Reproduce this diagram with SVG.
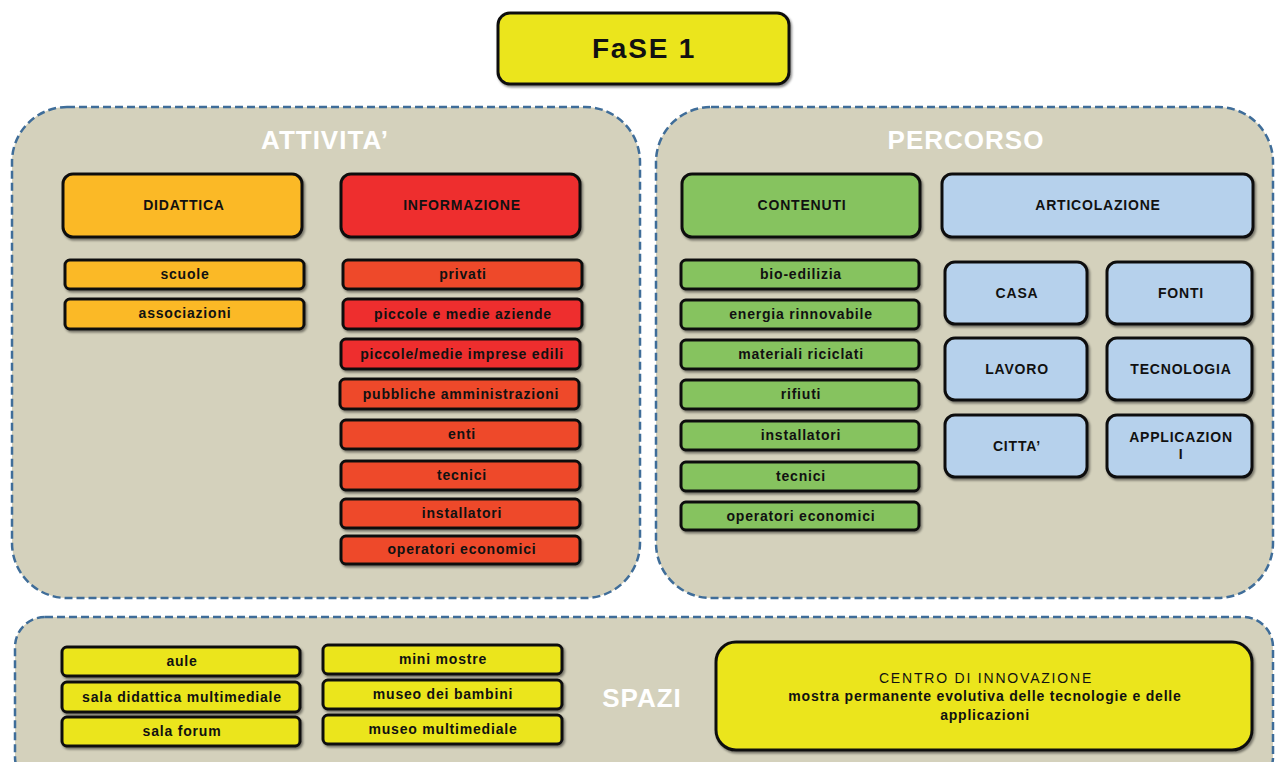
<svg xmlns="http://www.w3.org/2000/svg" width="1275" height="762" viewBox="0 0 1275 762">
<defs>
<filter id="sh" x="-10%" y="-20%" width="120%" height="150%">
<feDropShadow dx="1.5" dy="2" stdDeviation="1.2" flood-color="#000" flood-opacity="0.45"/>
</filter>
<style>
.panel{fill:#D4D1BC;stroke:#3F6D99;stroke-width:2.5;stroke-dasharray:8 4}
.pt{font-family:"Liberation Sans",Arial,sans-serif;font-weight:bold;fill:#fff;font-size:26px;text-anchor:middle;letter-spacing:1px}
.box{stroke:#111;stroke-width:3;filter:url(#sh)}
.t{font-family:"Liberation Sans",Arial,sans-serif;font-size:14px;font-weight:bold;fill:#111;text-anchor:middle;letter-spacing:0.8px}
.h{font-family:"Liberation Sans",Arial,sans-serif;font-size:14px;font-weight:bold;fill:#111;text-anchor:middle;letter-spacing:0.8px}
.c1{font-family:"Liberation Sans",Arial,sans-serif;font-size:14px;font-weight:normal;fill:#111;text-anchor:middle;letter-spacing:1.8px}
.yel{fill:#EBE51F}
.org{fill:#FBB927}
.red{fill:#EE2D2D}
.ored{fill:#EE4A2A}
.grn{fill:#86C35F}
.blu{fill:#B6D1EC}
</style>
</defs>
<rect width="1275" height="762" fill="#fff"/>

<g id="title">
<rect class="box yel" x="498" y="13" width="291" height="71" rx="12"/>
<text x="644" y="58" font-family="Liberation Sans,Arial,sans-serif" font-size="28" font-weight="bold" fill="#111" text-anchor="middle" letter-spacing="1.8">FaSE 1</text>
</g>

<g id="attivita">
<rect class="panel" x="12" y="107" width="628" height="491" rx="55"/>
<text class="pt" x="325" y="149">ATTIVITA’</text>
</g>
<g id="percorso">
<rect class="panel" x="656" y="107" width="617" height="491" rx="55"/>
<text class="pt" x="966" y="149">PERCORSO</text>
</g>
<g id="spazi">
<rect class="panel" x="15" y="617" width="1258" height="170" rx="30"/>
<text class="pt" x="642" y="707">SPAZI</text>
</g>

<g id="didattica"><rect class="box org" x="63" y="174" width="239" height="63" rx="10"/><text class="h" x="184" y="210">DIDATTICA</text></g>
<g id="informazione"><rect class="box red" x="341" y="174" width="239" height="63" rx="10"/><text class="h" x="462" y="210">INFORMAZIONE</text></g>
<g id="scuole"><rect class="box org" x="65" y="260" width="239" height="29" rx="5"/><text class="t" x="185" y="279">scuole</text></g>
<g id="associazioni"><rect class="box org" x="65" y="299" width="239" height="30" rx="5"/><text class="t" x="185" y="318">associazioni</text></g>
<g id="privati"><rect class="box ored" x="343" y="260" width="239" height="29" rx="5"/><text class="t" x="463" y="279">privati</text></g>
<g id="pmi"><rect class="box red" x="343" y="299" width="239" height="30" rx="5"/><text class="t" x="463" y="319">piccole e medie aziende</text></g>
<g id="edili"><rect class="box red" x="341" y="339" width="239" height="30" rx="5"/><text class="t" x="462" y="359">piccole/medie imprese edili</text></g>
<g id="pa"><rect class="box ored" x="340" y="379" width="239" height="30" rx="5"/><text class="t" x="461" y="399">pubbliche amministrazioni</text></g>
<g id="enti"><rect class="box ored" x="341" y="420" width="239" height="29" rx="5"/><text class="t" x="462" y="439">enti</text></g>
<g id="tecnici1"><rect class="box ored" x="341" y="461" width="239" height="29" rx="5"/><text class="t" x="462" y="480">tecnici</text></g>
<g id="installatori1"><rect class="box ored" x="341" y="499" width="239" height="29" rx="5"/><text class="t" x="462" y="518">installatori</text></g>
<g id="operatori1"><rect class="box ored" x="341" y="536" width="239" height="28" rx="5"/><text class="t" x="462" y="554">operatori economici</text></g>

<g id="contenuti"><rect class="box grn" x="682" y="174" width="238" height="63" rx="10"/><text class="h" x="802" y="210">CONTENUTI</text></g>
<g id="articolazione"><rect class="box blu" x="942" y="174" width="311" height="63" rx="10"/><text class="h" x="1098" y="210">ARTICOLAZIONE</text></g>
<g id="bioedilizia"><rect class="box grn" x="681" y="260" width="238" height="29" rx="5"/><text class="t" x="801" y="279">bio-edilizia</text></g>
<g id="energia"><rect class="box grn" x="681" y="300" width="238" height="29" rx="5"/><text class="t" x="801" y="319">energia rinnovabile</text></g>
<g id="materiali"><rect class="box grn" x="681" y="340" width="238" height="29" rx="5"/><text class="t" x="801" y="359">materiali riciclati</text></g>
<g id="rifiuti"><rect class="box grn" x="681" y="380" width="238" height="29" rx="5"/><text class="t" x="801" y="399">rifiuti</text></g>
<g id="installatori2"><rect class="box grn" x="681" y="421" width="238" height="29" rx="5"/><text class="t" x="801" y="440">installatori</text></g>
<g id="tecnici2"><rect class="box grn" x="681" y="462" width="238" height="29" rx="5"/><text class="t" x="801" y="481">tecnici</text></g>
<g id="operatori2"><rect class="box grn" x="681" y="502" width="238" height="28" rx="5"/><text class="t" x="801" y="521">operatori economici</text></g>

<g id="casa"><rect class="box blu" x="945" y="262" width="142" height="62" rx="10"/><text class="h" x="1017" y="298">CASA</text></g>
<g id="fonti"><rect class="box blu" x="1107" y="262" width="145" height="62" rx="10"/><text class="h" x="1181" y="298">FONTI</text></g>
<g id="lavoro"><rect class="box blu" x="945" y="338" width="142" height="62" rx="10"/><text class="h" x="1017" y="374">LAVORO</text></g>
<g id="tecnologia"><rect class="box blu" x="1107" y="338" width="145" height="62" rx="10"/><text class="h" x="1181" y="374">TECNOLOGIA</text></g>
<g id="citta"><rect class="box blu" x="945" y="415" width="142" height="62" rx="10"/><text class="h" x="1017" y="451">CITTA’</text></g>
<g id="applicazioni"><rect class="box blu" x="1107" y="415" width="145" height="62" rx="10"/><text class="h" x="1181" y="442">APPLICAZION</text><text class="h" x="1181" y="459">I</text></g>

<g id="aule"><rect class="box yel" x="62" y="647" width="238" height="29" rx="5"/><text class="t" x="182" y="666">aule</text></g>
<g id="saladid"><rect class="box yel" x="62" y="682" width="238" height="30" rx="5"/><text class="t" x="182" y="702">sala didattica multimediale</text></g>
<g id="salaforum"><rect class="box yel" x="62" y="717" width="238" height="29" rx="5"/><text class="t" x="182" y="736">sala forum</text></g>
<g id="minimostre"><rect class="box yel" x="323" y="645" width="239" height="29" rx="5"/><text class="t" x="443" y="664">mini mostre</text></g>
<g id="museobambini"><rect class="box yel" x="323" y="680" width="239" height="29" rx="5"/><text class="t" x="443" y="699">museo dei bambini</text></g>
<g id="museomm"><rect class="box yel" x="323" y="715" width="239" height="29" rx="5"/><text class="t" x="443" y="734">museo multimediale</text></g>
<g id="centro"><rect class="box yel" x="716" y="642" width="536" height="108" rx="20"/>
<text class="c1" x="986" y="683">CENTRO DI INNOVAZIONE</text>
<text class="t" x="985" y="701">mostra permanente evolutiva delle tecnologie e delle</text>
<text class="t" x="985" y="720">applicazioni</text></g>
</svg>
